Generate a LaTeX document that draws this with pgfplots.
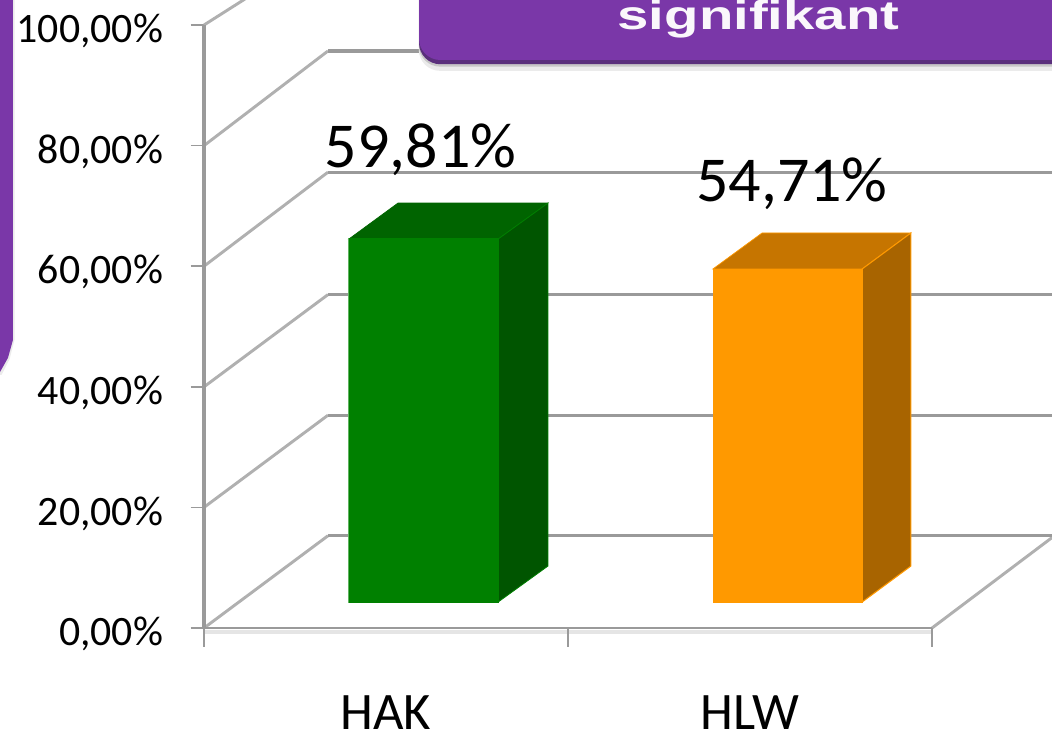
\documentclass[border=0pt]{standalone}
\usepackage{fontspec}
\setmainfont{Carlito}
\newfontfamily\boldsans{Liberation Sans}[BoldFont={Liberation Sans Bold}]
\usepackage{pgfplots}
\pgfplotsset{compat=1.18}

\definecolor{gridgray}{HTML}{9A9A9A}
\definecolor{diaggray}{HTML}{B0B0B0}
\definecolor{purp}{HTML}{7A37A8}
\definecolor{purpdark}{HTML}{5A2F7C}
\definecolor{greenfront}{HTML}{008000}
\definecolor{greentop}{HTML}{006400}
\definecolor{greenside}{HTML}{005500}
\definecolor{greenedge}{HTML}{5FB35F}
\definecolor{orangefront}{HTML}{FF9900}
\definecolor{orangetop}{HTML}{C67500}
\definecolor{orangeside}{HTML}{A86400}

\begin{document}
\begin{tikzpicture}
\begin{axis}[
    at={(0pt,0pt)}, anchor=south west,
    scale only axis,
    width=789pt, height=549.75pt,
    xmin=-0.5604, xmax=2.3297,
    ymin=-17.41, ymax=104.15,
    axis lines=middle,
    axis line style={draw=none,-},
    hide obscured x ticks=false,
    hide obscured y ticks=false,
    tick align=outside,
    tick style={gridgray, line width=1.2pt},
    major tick length=10pt,
    ytick={0,20,40,60,80,100},
    yticklabels={{0,00\%},{20,00\%},{40,00\%},{60,00\%},{80,00\%},{100,00\%}},
    yticklabel style={font=\fontsize{31.4}{33}\selectfont, anchor=east, inner sep=0pt, xshift=-20.5pt, yshift=-4.5pt},
    xtick={0,1,2},
    xticklabels={},
    extra x ticks={0.5,1.5},
    extra x tick labels={HAK,HLW},
    extra x tick style={
        major tick length=0pt,
        xticklabel style={font=\fontsize{39.5}{41}\selectfont, anchor=base, inner sep=0pt, yshift=-76pt},
    },
    clip=false,
]

% back wall and floor grid
\addplot[diaggray, line width=2.2pt] coordinates {(0,0) (0.3407,15.3)};
\addplot[diaggray, line width=2.2pt] coordinates {(0,20) (0.3407,35.3)};
\addplot[diaggray, line width=2.2pt] coordinates {(0,40) (0.3407,55.3)};
\addplot[diaggray, line width=2.2pt] coordinates {(0,60) (0.3407,75.6)};
\addplot[diaggray, line width=2.2pt] coordinates {(0,80) (0.3407,95.7)};
\addplot[diaggray, line width=2.2pt] coordinates {(0,100) (0.12,104.6)};
\addplot[diaggray, line width=2.2pt] coordinates {(2,0) (2.3297,15)};

\addplot[gridgray, line width=2.4pt] coordinates {(0.3407,15.3) (2.3297,15.3)};
\addplot[gridgray, line width=2.4pt] coordinates {(0.3407,35.3) (2.3297,35.3)};
\addplot[gridgray, line width=2.4pt] coordinates {(0.3407,55.3) (2.3297,55.3)};
\addplot[gridgray, line width=2.4pt] coordinates {(0.3407,75.6) (2.3297,75.6)};
\addplot[gridgray, line width=2.4pt] coordinates {(0.3407,95.7) (0.65,95.7)};

% front axis lines, longer x ticks
\addplot[black!10, line width=3pt] coordinates {(0,-0.6) (2,-0.6)};
\addplot[gridgray, line width=2.2pt] coordinates {(0,0) (2,0)};
\addplot[gridgray, line width=2.4pt] coordinates {(0,0) (0,100)};
\addplot[gridgray, line width=1.2pt] coordinates {(0,0) (0,-3.1)};
\addplot[gridgray, line width=1.2pt] coordinates {(1,0) (1,-3.1)};
\addplot[gridgray, line width=1.2pt] coordinates {(2,0) (2,-3.1)};

% HAK bar, 59,81 %
\addplot[fill=greentop, draw=greentop, line width=0.5pt] coordinates {(0.398,64.51) (0.533,70.48) (0.945,70.48) (0.808,64.51)} --cycle;
\addplot[fill=greenside, draw=greenfront, line width=0.6pt] coordinates {(0.808,4.31) (0.945,10.28) (0.945,70.48) (0.808,64.51)} --cycle;
\addplot[fill=greenfront, draw=greenedge, line width=0.8pt] coordinates {(0.398,4.31) (0.398,64.51) (0.808,64.51) (0.808,4.31)} --cycle;
\addplot[greenfront, line width=0.9pt] coordinates {(0.398,64.51) (0.808,64.51) (0.808,4.31) (0.398,4.31)};

% HLW bar, 54,71 %
\addplot[fill=orangetop, draw=orangefront, line width=0.5pt] coordinates {(1.398,59.54) (1.533,65.51) (1.942,65.51) (1.808,59.54)} --cycle;
\addplot[fill=orangeside, draw=orangefront, line width=0.8pt] coordinates {(1.808,4.31) (1.942,10.28) (1.942,65.51) (1.808,59.54)} --cycle;
\addplot[fill=orangefront, draw=orangefront, line width=0.5pt] coordinates {(1.398,4.31) (1.398,59.54) (1.808,59.54) (1.808,4.31)} --cycle;

% value labels
\node[font=\fontsize{48}{50}\selectfont, anchor=base, inner sep=0pt] at (axis cs:0.595,76.4) {59,81\%};
\node[font=\fontsize{48}{50}\selectfont, anchor=base, inner sep=0pt] at (axis cs:1.615,70.7) {54,71\%};

% purple callouts cut off by the frame
\fill[black!8, rounded corners=16pt] (axis cs:0.590,115) -- (axis cs:0.590,92.4) -- (axis cs:2.6,92.4) -- (axis cs:2.6,115) -- cycle;
\fill[black!22, rounded corners=16pt] (axis cs:0.590,115) -- (axis cs:0.590,93.1) -- (axis cs:2.6,93.1) -- (axis cs:2.6,115) -- cycle;
\fill[purpdark, rounded corners=16pt] (axis cs:0.5907,115) -- (axis cs:0.5907,93.5) -- (axis cs:2.6,93.5) -- (axis cs:2.6,115) -- cycle;
\fill[purp, rounded corners=16pt] (axis cs:0.5907,115) -- (axis cs:0.5907,94.2) -- (axis cs:2.6,94.2) -- (axis cs:2.6,115) -- cycle;
\node[anchor=base, inner sep=0pt, text=white!96!purp] at (axis cs:1.5234,99.3) {\scalebox{1.386}[1]{\boldsans\bfseries\fontsize{30.5}{32}\selectfont signifikant}};

\fill[black!8] (axis cs:-0.7,115) -- (axis cs:-0.5205,115) -- (axis cs:-0.5205,47.8) -- (axis cs:-0.534,44.6) -- (axis cs:-0.556,42) -- (axis cs:-0.7,42) -- cycle;
\fill[purp] (axis cs:-0.7,115) -- (axis cs:-0.5247,115) -- (axis cs:-0.5247,47.8) -- (axis cs:-0.5385,44.8) -- (axis cs:-0.5604,42.45) -- (axis cs:-0.7,42.45) -- cycle;

\end{axis}
\pgfresetboundingbox
\path[use as bounding box] (0pt,0pt) rectangle (789pt,549.75pt);
\end{tikzpicture}
\end{document}
